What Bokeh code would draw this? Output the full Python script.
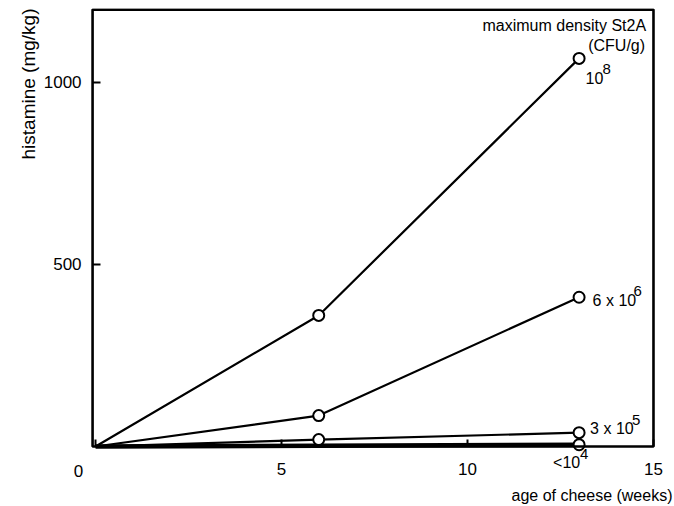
import math
from bokeh.plotting import figure
from bokeh.models import Label, FixedTicker, Range1d, Title, BoxAnnotation
from bokeh.embed import file_html
from bokeh.resources import INLINE

# ---- data ----
weeks = [0, 6, 13]
hist_1e8 = [0, 360, 1066]
hist_6e6 = [0, 85, 410]
hist_3e5 = [0, 19, 38]
weeks_low = [0, 13]
hist_low = [0, 5]
series_base = ["10", "6 x 10", "3 x 10", "<10"]
series_exp = ["8", "6", "5", "4"]
x_ticks = [0, 5, 10, 15]
y_ticks = [500, 1000]
x_title = "age of cheese (weeks)"
y_title = "histamine (mg/kg)"
legend_title = ["maximum density St2A", "(CFU/g)"]

FONT = "Liberation Sans"
FS = "17px"
LFS = "16px"

# axes box extents (the drawn frame); the canvas frame is larger so that
# tick labels and notes outside the box are not clipped
X0, X1 = -0.08, 15
Y0, Y1 = 0, 1200

p = figure(width=674, height=506, x_range=Range1d(-1.48, 15.565), y_range=Range1d(-162, 1203),
           output_backend="svg", toolbar_location=None,
           min_border_left=40, min_border_right=0, min_border_top=8, min_border_bottom=1)
p.grid.visible = False
p.outline_line_color = None
p.background_fill_color = "white"
p.border_fill_color = "white"

p.add_layout(BoxAnnotation(left=X0, right=X1, bottom=Y0, top=Y1, fill_color=None,
                           line_color="black", line_alpha=1.0, line_width=2.6,
                           level="overlay"))

for ax in (p.xaxis[0], p.yaxis[0]):
    ax.axis_line_color = None
    ax.major_tick_out = 0
    ax.major_tick_line_width = 2
    ax.minor_tick_line_color = None
    ax.major_label_text_font = FONT
    ax.major_label_text_font_size = FS
    ax.major_label_text_color = "black"

p.xaxis.fixed_location = Y0
p.xaxis.major_tick_in = 7
p.xaxis.ticker = FixedTicker(ticks=x_ticks)
p.xaxis.major_label_overrides = {0: ""}
p.xaxis.major_label_standoff = 16

p.yaxis.fixed_location = X0
p.yaxis.major_tick_in = 8
p.yaxis.ticker = FixedTicker(ticks=y_ticks)
p.yaxis.major_label_standoff = 11

p.add_layout(Title(text=y_title, align="right", text_font=FONT, text_font_size="19px",
                   text_font_style="normal", text_color="black", standoff=3), "left")

# lines
for xs, ys in [(weeks, hist_1e8), (weeks, hist_6e6), (weeks, hist_3e5)]:
    p.line(xs, ys, line_color="black", line_width=2.2)
p.line(weeks_low, hist_low, line_color="black", line_width=4.5)

# markers (not at origin)
for xs, ys in [(weeks, hist_1e8), (weeks, hist_6e6), (weeks, hist_3e5)]:
    p.scatter(xs[1:], ys[1:], marker="circle", size=11, fill_color="white",
              line_color="black", line_width=2)
p.scatter(weeks_low[1:], hist_low[1:], marker="circle", size=11, fill_color="white",
          line_color="black", line_width=2)

def lab(text, x, y, xo, yo, size=LFS, align="left"):
    p.add_layout(Label(x=x, y=y, x_offset=xo, y_offset=yo, text=text, text_font=FONT,
                       text_font_size=size, text_align=align, text_baseline="middle",
                       text_color="black"))

# origin "0" and x axis title
lab(str(x_ticks[0]), x_ticks[0], Y0, -17, -24, size=FS, align="center")
lab(x_title, X1, Y0, 19, -49, align="right")

# legend title
lab(legend_title[0], weeks[-1], hist_1e8[-1], 67, 33, align="right")
lab(legend_title[1], weeks[-1], hist_1e8[-1], 66, 13, align="right")

# series labels
ends = [hist_1e8[-1], hist_6e6[-1], hist_3e5[-1], hist_low[-1]]
offs = [(6.5, -20), (13.5, -3), (11, 4), (-26, -18)]
base_w = [18, 42, 43, 28]
for base, exp, yv, (xo, yo), bw in zip(series_base, series_exp, ends, offs, base_w):
    lab(base, weeks[-1], yv, xo, yo)
    lab(exp, weeks[-1], yv, xo + bw - 1, yo + 9, size="15px")

open("out.html", "w").write(file_html(p, INLINE))
